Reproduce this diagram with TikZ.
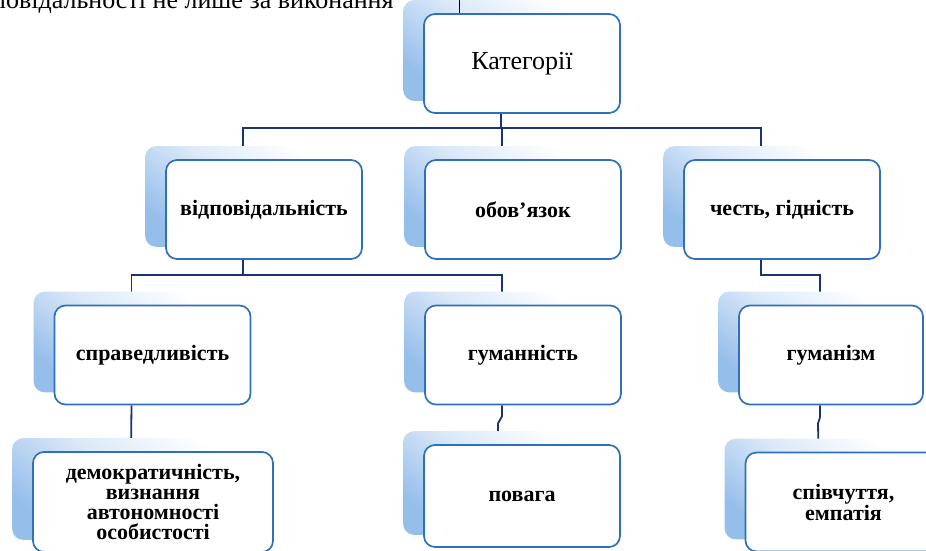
\documentclass[tikz,border=0pt]{standalone}
\usepackage{fontspec}
\setmainfont{Liberation Serif}
\newfontfamily\boxfont{Liberation Serif}
\usetikzlibrary{positioning}

\definecolor{boxblue}{RGB}{46,112,190}
\definecolor{linknavy}{RGB}{25,52,110}
\definecolor{shadeblue}{RGB}{150,190,235}

\pgfdeclarelayer{links}
\pgfdeclarelayer{shadows}
\pgfsetlayers{links,shadows,main}

\begin{document}
\begin{tikzpicture}[
      x=1pt,y=-1pt,
      cat node/.style={rectangle,rounded corners=11pt,draw=boxblue,line width=1.7pt,fill=white,
        minimum width=196pt,minimum height=99pt,inner sep=2pt,align=center,
        font=\boxfont\bfseries\fontsize{22}{20}\selectfont},
      link/.style={draw=linknavy,line width=1.8pt},
      shade box/.style={rounded corners=11pt,top color=white,bottom color=shadeblue,
        middle color=shadeblue!35!white,shading angle=-40}
    ]
    \useasboundingbox (0,0) rectangle (926,550);

    % cut line of the page text above
    \node[anchor=base west,inner sep=0pt,font=\fontsize{26}{28}\selectfont] (T) at (-8,8) {повідальності не лише за виконання};
    \coordinate (mark) at (459,14);
    \draw[line width=0.8pt] (mark) -- ++(0,-16);

    \node[cat node,font=\boxfont\fontsize{26}{20}\selectfont] (K) at (522,63.5) {Категорії};

    \node[cat node] (V) at (264,209.5) {відповідальність};
    \node[cat node] (O) at (523,209.5) {обов’язок};
    \node[cat node] (Ch) at (782,209.5) {честь, гідність};

    \node[cat node] (S) at (152.5,355) {справедливість};
    \node[cat node] (H) at (523,355) {гуманність};
    \node[cat node,minimum width=184pt] (Hz) at (831,355) {гуманізм};

    \node[cat node,minimum width=240pt,minimum height=100pt] (D) at (153,502) {демократичність,\\визнання\\автономності\\особистості};
    \node[cat node,minimum height=102pt] (P) at (522,496) {повага};
    \node[cat node] (E) at (843.5,502) {співчуття,\\емпатія};

    \begin{pgfonlayer}{shadows}
      \foreach \n in {K,V,O,Ch,S,H,Hz,D,P,E}
        \shade[shade box] ([shift={(-20,-13)}]\n.south west) rectangle ([shift={(-20,-13)}]\n.north east);
    \end{pgfonlayer}

    \begin{pgfonlayer}{links}
      \coordinate (bus1) at (0,128);
      \coordinate (bus2) at (0,275);
      \foreach \t in {V,O,Ch}
        \draw[link] ([xshift=-21]K.south) -- ([xshift=-21]K.south |- bus1) -| ([xshift=-21]\t.north);
      \foreach \t in {S,H}
        \draw[link] ([xshift=-21]V.south) -- ([xshift=-21]V.south |- bus2) -| ([xshift=-21]\t.north);
      \draw[link] ([xshift=-21]Ch.south) -- ([xshift=-21]Ch.south |- bus2) -| ([xshift=-11]Hz.north);
      \draw[link] ([xshift=-21]S.south) -- ([xshift=-22]D.north);
      \draw[link] ([xshift=-21]H.south) -- ++(0,11) -- ++(-4,7) -- ([xshift=-24]P.north);
      \draw[link] ([xshift=-11]Hz.south) -- ++(0,12) -- ++(-2,6) -- ([xshift=-25]E.north);
    \end{pgfonlayer}
  \end{tikzpicture}
\end{document}
